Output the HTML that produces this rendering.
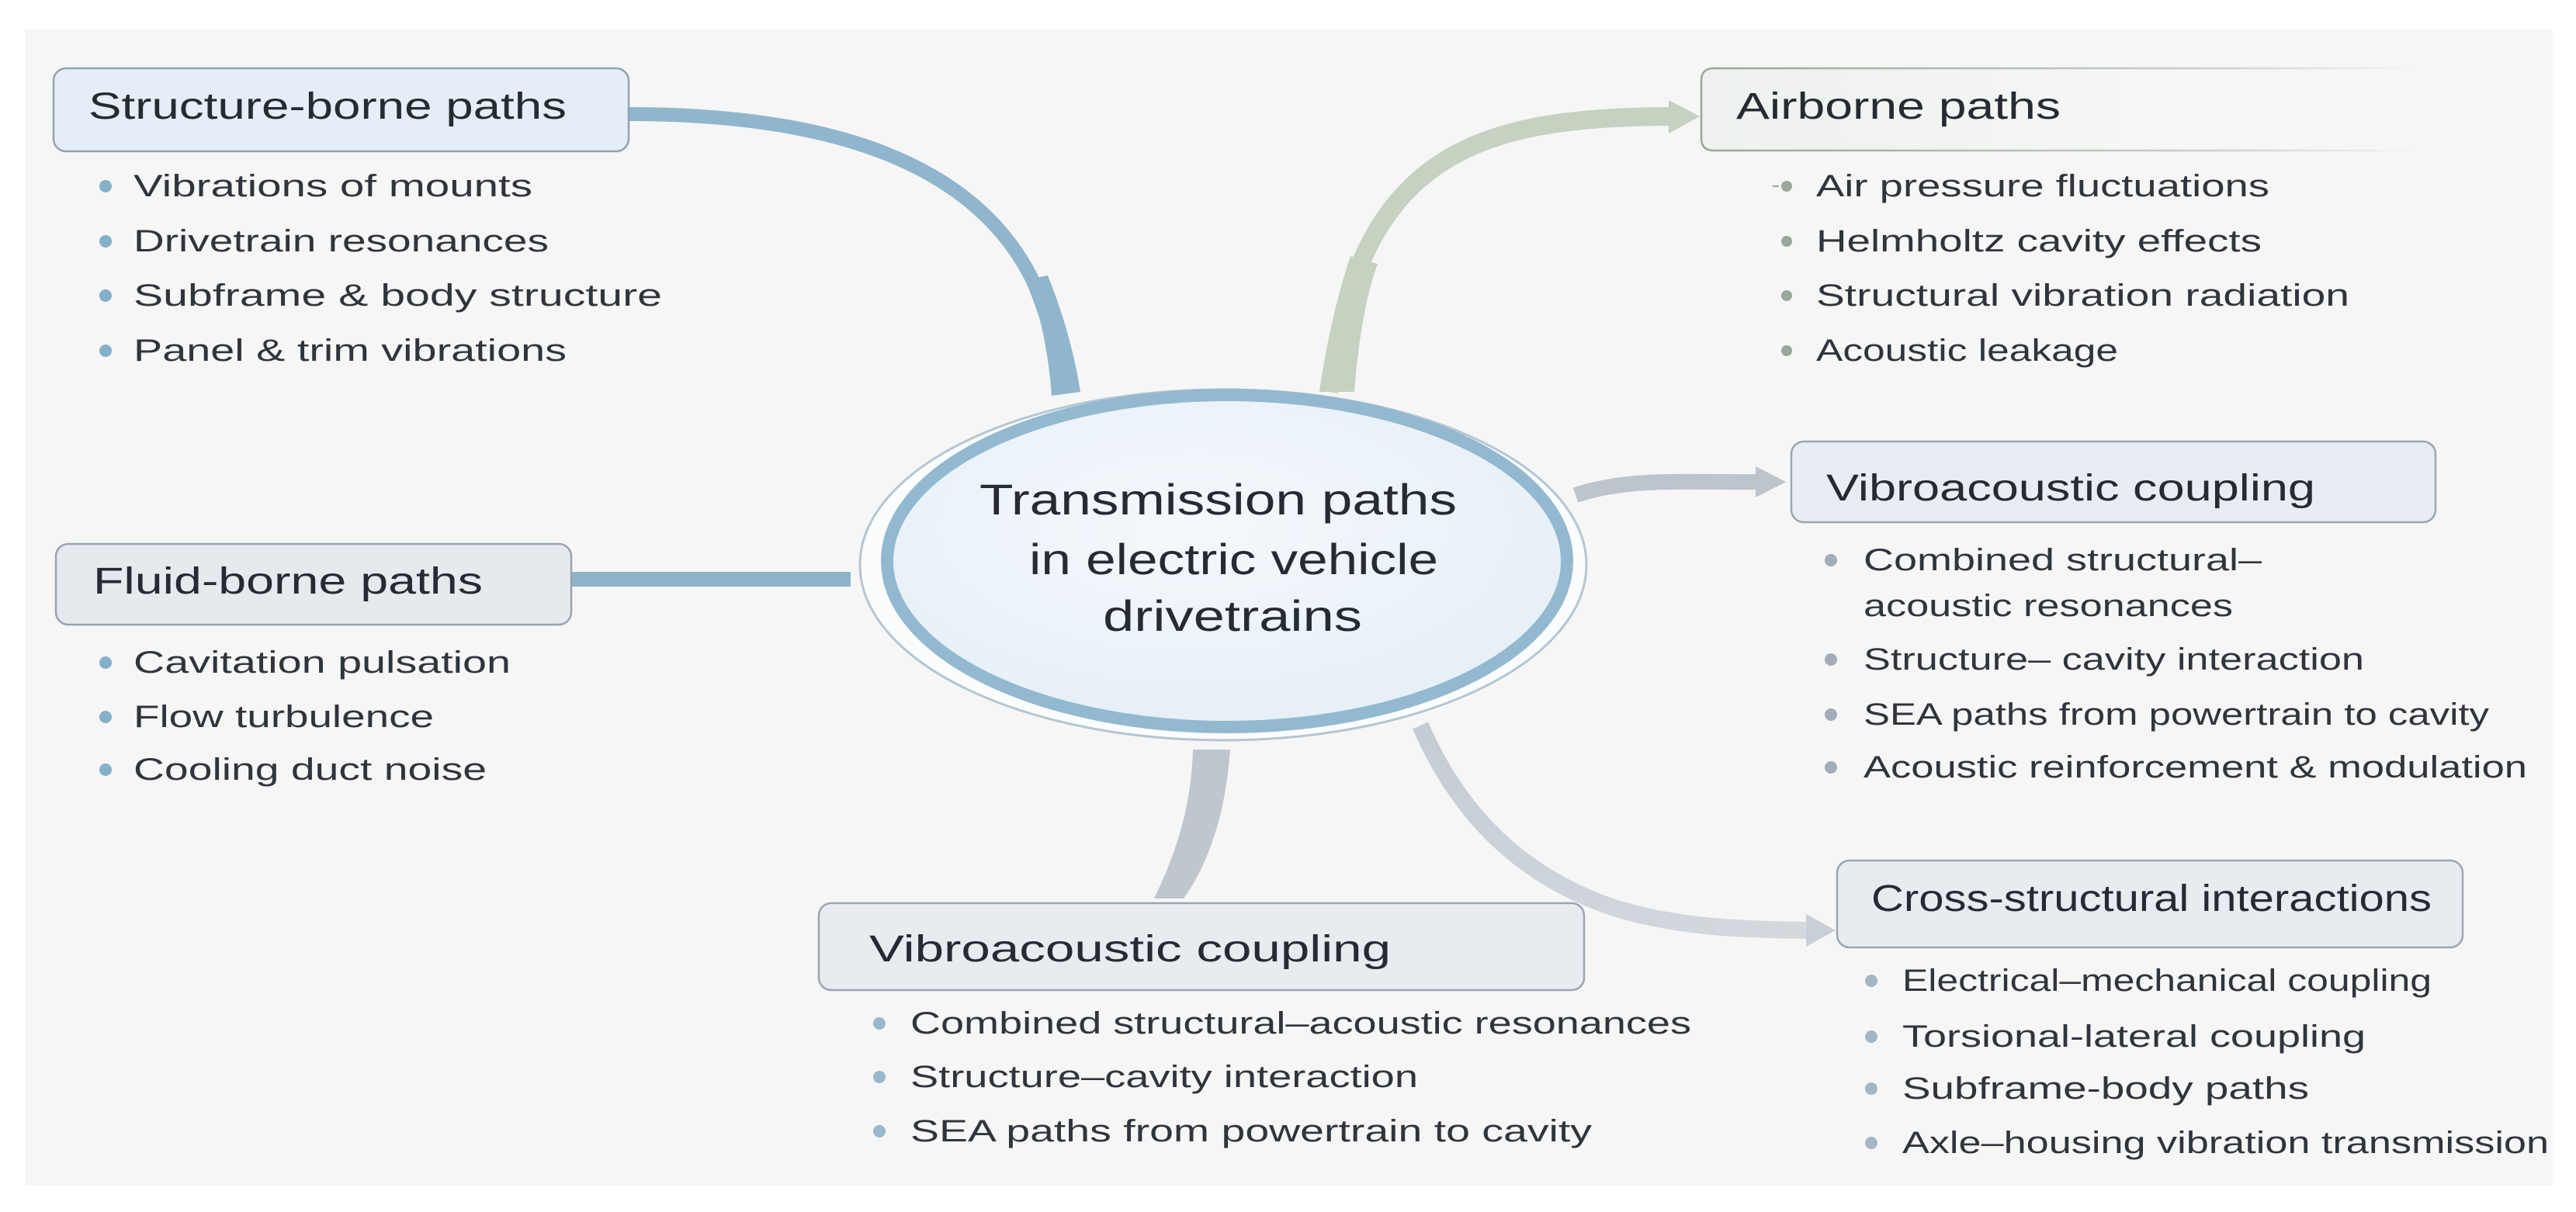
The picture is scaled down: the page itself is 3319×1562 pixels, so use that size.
<!DOCTYPE html>
<html><head><meta charset="utf-8"><style>
html,body{margin:0;padding:0;background:#fff;}
svg{display:block;}
text{font-family:"Liberation Sans",sans-serif;fill:#262b33;}
.t{font-size:48px;}
.b{font-size:40px;fill:#30353c;}
</style></head><body>
<svg width="3319" height="1562" viewBox="0 0 3319 1562" xmlns="http://www.w3.org/2000/svg">
<defs>
<radialGradient id="cg" cx="0.45" cy="0.4" r="0.7"><stop offset="0" stop-color="#f4f8fc"/><stop offset="1" stop-color="#e4eef6"/></radialGradient>
<linearGradient id="air" x1="0" x2="1"><stop offset="0" stop-color="#eef1ee"/><stop offset="0.6" stop-color="#f5f6f5"/><stop offset="1" stop-color="#f6f6f6"/></linearGradient>
<linearGradient id="airs" x1="0" x2="1"><stop offset="0" stop-color="#9aa69a"/><stop offset="0.7" stop-color="#c8d0c8"/><stop offset="1" stop-color="#f6f6f6"/></linearGradient>
<linearGradient id="crs" x1="0" y1="0" x2="1" y2="1"><stop offset="0" stop-color="#c4ccd4"/><stop offset="1" stop-color="#d4d9de"/></linearGradient>
</defs>
<rect x="32" y="37" width="3257" height="1491" fill="#f6f6f6"/>

<!-- connectors -->
<path d="M810,147 C1050,147 1250,200 1330,360 C1360,430 1365,480 1370,505" stroke="#8fb6cd" stroke-width="18" fill="none"/>
<path d="M1325,360 C1345,420 1352,470 1355,510 L1392,505 C1385,460 1372,410 1350,355 Z" fill="#8fb6cd"/>
<rect x="736" y="737" width="360" height="19" fill="#8fb3c8"/>
<path d="M1712,505 C1730,380 1760,290 1830,230 C1900,170 2000,150 2155,150" stroke="#c5d1c1" stroke-width="24" fill="none"/>
<path d="M1700,505 L1745,505 C1750,440 1760,380 1775,340 L1740,330 C1720,390 1708,450 1700,505Z" fill="#c5d1c1"/>
<polygon points="2150,129 2190,150 2150,172" fill="#c5d1c1"/>
<path d="M2030,638 C2100,615 2170,622 2265,621" stroke="#bcc4cc" stroke-width="20" fill="none"/>
<polygon points="2262,601 2301,621 2262,641" fill="#bcc4cc"/>
<path d="M1830,935 C1880,1050 1960,1130 2080,1170 C2160,1195 2240,1198 2330,1199" stroke="url(#crs)" stroke-width="22" fill="none"/>
<polygon points="2327,1178 2365,1199 2327,1220" fill="#c8cfd6"/>
<path d="M1537,966 L1585,966 C1580,1040 1560,1110 1525,1158 L1487,1158 C1515,1100 1535,1040 1537,966Z" fill="#c0c6cd"/>

<!-- center -->
<ellipse cx="1576" cy="728" rx="468" ry="226" fill="#fafcfd" stroke="#b4c6d2" stroke-width="3"/>
<ellipse cx="1581" cy="723" rx="438" ry="214" fill="url(#cg)" stroke="#93b9d0" stroke-width="16"/>
<text x="1262" y="663" style="font-size:56px" textLength="615" lengthAdjust="spacingAndGlyphs">Transmission paths</text>
<text x="1326" y="740" style="font-size:56px" textLength="527" lengthAdjust="spacingAndGlyphs">in electric vehicle</text>
<text x="1421" y="813" style="font-size:56px" textLength="334" lengthAdjust="spacingAndGlyphs">drivetrains</text>

<!-- Structure-borne -->
<rect x="69" y="88" width="741" height="107" rx="16" fill="#e5eef6" stroke="#93a3b0" stroke-width="2.5"/>
<text class="t" x="114" y="153" textLength="616" lengthAdjust="spacingAndGlyphs">Structure-borne paths</text>
<g fill="#86b0c8"><circle cx="136" cy="240" r="8"/><circle cx="136" cy="311" r="8"/><circle cx="136" cy="381" r="8"/><circle cx="136" cy="452" r="8"/></g>
<text class="b" x="172" y="253" textLength="514" lengthAdjust="spacingAndGlyphs">Vibrations of mounts</text>
<text class="b" x="172" y="324" textLength="535" lengthAdjust="spacingAndGlyphs">Drivetrain resonances</text>
<text class="b" x="172" y="394" textLength="681" lengthAdjust="spacingAndGlyphs">Subframe &amp; body structure</text>
<text class="b" x="172" y="465" textLength="558" lengthAdjust="spacingAndGlyphs">Panel &amp; trim vibrations</text>

<!-- Fluid-borne -->
<rect x="72" y="701" width="664" height="104" rx="16" fill="#e6eaee" stroke="#98a4ae" stroke-width="2.5"/>
<text class="t" x="120" y="765" textLength="502" lengthAdjust="spacingAndGlyphs">Fluid-borne paths</text>
<g fill="#86b0c8"><circle cx="136" cy="854" r="8"/><circle cx="136" cy="924" r="8"/><circle cx="136" cy="992" r="8"/></g>
<text class="b" x="172" y="867" textLength="486" lengthAdjust="spacingAndGlyphs">Cavitation pulsation</text>
<text class="b" x="172" y="937" textLength="387" lengthAdjust="spacingAndGlyphs">Flow turbulence</text>
<text class="b" x="172" y="1005" textLength="455" lengthAdjust="spacingAndGlyphs">Cooling duct noise</text>

<!-- Airborne -->
<path d="M3120,88 L2208,88 Q2192,88 2192,104 L2192,178 Q2192,194 2208,194 L3120,194" fill="url(#air)" stroke="url(#airs)" stroke-width="2.5"/>
<text class="t" x="2237" y="153" textLength="418" lengthAdjust="spacingAndGlyphs">Airborne paths</text>
<g fill="#9aa89c"><circle cx="2302" cy="240" r="7"/><circle cx="2302" cy="311" r="7"/><circle cx="2302" cy="381" r="7"/><circle cx="2302" cy="452" r="7"/></g>
<rect x="2284" y="239" width="8" height="2" fill="#9aa89c"/>
<text class="b" x="2340" y="253" textLength="584" lengthAdjust="spacingAndGlyphs">Air pressure fluctuations</text>
<text class="b" x="2340" y="324" textLength="574" lengthAdjust="spacingAndGlyphs">Helmholtz cavity effects</text>
<text class="b" x="2340" y="394" textLength="687" lengthAdjust="spacingAndGlyphs">Structural vibration radiation</text>
<text class="b" x="2340" y="465" textLength="389" lengthAdjust="spacingAndGlyphs">Acoustic leakage</text>

<!-- Vibroacoustic right -->
<rect x="2308" y="569" width="830" height="104" rx="16" fill="#e8edf3" stroke="#9ba6b0" stroke-width="2.5"/>
<text class="t" x="2353" y="645" textLength="630" lengthAdjust="spacingAndGlyphs">Vibroacoustic coupling</text>
<g fill="#a3adb7"><circle cx="2359" cy="722" r="8"/><circle cx="2359" cy="850" r="8"/><circle cx="2359" cy="921" r="8"/><circle cx="2359" cy="989" r="8"/></g>
<text class="b" x="2401" y="735" textLength="513" lengthAdjust="spacingAndGlyphs">Combined structural–</text>
<text class="b" x="2401" y="794" textLength="476" lengthAdjust="spacingAndGlyphs">acoustic resonances</text>
<text class="b" x="2401" y="863" textLength="645" lengthAdjust="spacingAndGlyphs">Structure– cavity interaction</text>
<text class="b" x="2401" y="934" textLength="806" lengthAdjust="spacingAndGlyphs">SEA paths from powertrain to cavity</text>
<text class="b" x="2401" y="1002" textLength="855" lengthAdjust="spacingAndGlyphs">Acoustic reinforcement &amp; modulation</text>

<!-- Cross-structural -->
<rect x="2367" y="1109" width="806" height="112" rx="16" fill="#e8ecf0" stroke="#9ba6b0" stroke-width="2.5"/>
<text class="t" x="2411" y="1174" textLength="722" lengthAdjust="spacingAndGlyphs">Cross-structural interactions</text>
<g fill="#a3b6c6"><circle cx="2411" cy="1264" r="8"/><circle cx="2411" cy="1336" r="8"/><circle cx="2411" cy="1403" r="8"/><circle cx="2411" cy="1473" r="8"/></g>
<text class="b" x="2451" y="1277" textLength="682" lengthAdjust="spacingAndGlyphs">Electrical–mechanical coupling</text>
<text class="b" x="2451" y="1349" textLength="597" lengthAdjust="spacingAndGlyphs">Torsional-lateral coupling</text>
<text class="b" x="2451" y="1416" textLength="524" lengthAdjust="spacingAndGlyphs">Subframe-body paths</text>
<text class="b" x="2451" y="1486" textLength="833" lengthAdjust="spacingAndGlyphs">Axle–housing vibration transmission</text>

<!-- Vibroacoustic bottom -->
<rect x="1055" y="1164" width="986" height="112" rx="16" fill="#e8ecf0" stroke="#9ba6b0" stroke-width="2.5"/>
<text class="t" x="1120" y="1239" textLength="672" lengthAdjust="spacingAndGlyphs">Vibroacoustic coupling</text>
<g fill="#9ab8cc"><circle cx="1133" cy="1319" r="8"/><circle cx="1133" cy="1388" r="8"/><circle cx="1133" cy="1458" r="8"/></g>
<text class="b" x="1173" y="1332" textLength="1006" lengthAdjust="spacingAndGlyphs">Combined structural–acoustic resonances</text>
<text class="b" x="1173" y="1401" textLength="654" lengthAdjust="spacingAndGlyphs">Structure–cavity interaction</text>
<text class="b" x="1173" y="1471" textLength="878" lengthAdjust="spacingAndGlyphs">SEA paths from powertrain to cavity</text>
</svg>
</body></html>
